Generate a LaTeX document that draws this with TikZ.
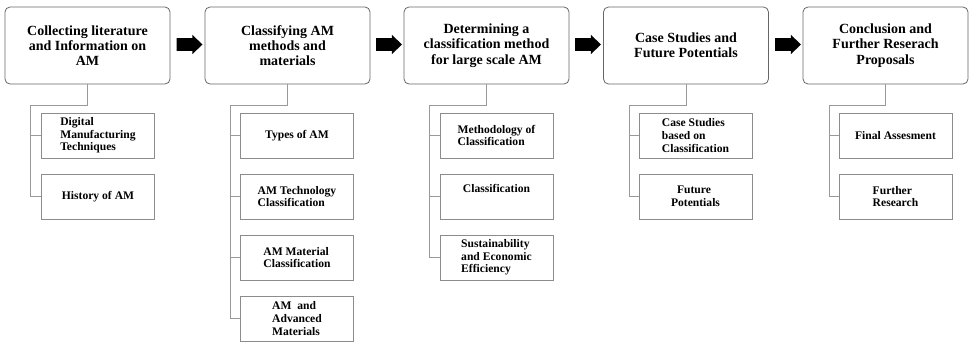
\documentclass[tikz,border=0pt]{standalone}
\usepackage{fontspec}
\setmainfont{Liberation Serif}
\begin{document}
\begin{tikzpicture}[x=1pt,y=-1pt,
  mainbox/.style={draw=black!60, line width=0.8pt, rounded corners=5pt, minimum width=165pt, minimum height=77pt, align=center, font=\fontsize{14}{15.2}\selectfont\bfseries, inner sep=2pt},
  subbox/.style={draw=black!45, line width=0.8pt, minimum width=113pt, minimum height=45pt, align=left, font=\fontsize{11.6}{12.7}\selectfont\bfseries, inner sep=2pt},
  conn/.style={draw=black!40, line width=0.7pt},
  barrow/.pic={\fill[black] (-13,-6.3) -- (2.8,-6.3) -- (2.8,-9.7) -- (13,0) -- (2.8,9.7) -- (2.8,6.3) -- (-13,6.3) -- cycle;}
]
\useasboundingbox (0,0) rectangle (969,343);

% main boxes
\node[mainbox] (m1) at (87.5,45.5) {Collecting literature\\and Information on\\AM};
\node[mainbox] (m2) at (287.5,45.5) {Classifying AM\\methods and\\materials};
\node[mainbox] (m3) at (486.5,45.5) {Determining a\\classification method\\for large scale AM};
\node[mainbox] (m4) at (686,45.5) {Case Studies and\\Future Potentials};
\node[mainbox] (m5) at (885.5,45.5) {Conclusion and\\Further Reserach\\Proposals};

% arrows
\pic at (189.5,44.5) {barrow};
\pic at (389,44.5) {barrow};
\pic at (588,44.5) {barrow};
\pic at (788,44.5) {barrow};

% column 1
\node[subbox] (s11) at (98,135.5) {Digital\\Manufacturing\\Techniques};
\node[subbox] (s12) at (98,196.5) {History of AM};
% column 2
\node[subbox] (s21) at (297,135.5) {Types of AM};
\node[subbox] (s22) at (297,196.5) {AM Technology\\Classification};
\node[subbox] (s23) at (297,257.5) {AM Material\\Classification};
\node[subbox] (s24) at (297,318.5) {AM\ \ and\\Advanced\\Materials};
% column 3
\node[subbox] (s31) at (496.5,135.5) {Methodology of\\Classification};
\node[subbox] (s32) at (496.5,196.5) {Classification\\[4pt]\mbox{}};
\node[subbox] (s33) at (496.5,257.5) {Sustainability\\and Economic\\Efficiency};
% column 4
\node[subbox] (s41) at (695.5,135.5) {Case Studies\\based on\\Classification};
\node[subbox] (s42) at (695.5,196.5) {\hspace*{6pt}Future\\Potentials};
% column 5
\node[subbox] (s51) at (895.5,135.5) {Final Assesment};
\node[subbox] (s52) at (895.5,196.5) {Further\\Research};

% connector coordinates
\coordinate (j1) at (30,105);
\coordinate (j2) at (230,105);
\coordinate (j3) at (429,105);
\coordinate (j4) at (629,105);
\coordinate (j5) at (829,105);

\path[conn] (m1.south) |- (j1) |- (s12.west);
\path[conn] (j1) |- (s11.west);
\path[conn] (m2.south) |- (j2) |- (s24.west);
\path[conn] (j2) |- (s21.west);
\path[conn] (j2) |- (s22.west);
\path[conn] (j2) |- (s23.west);
\path[conn] (m3.south) |- (j3) |- (s33.west);
\path[conn] (j3) |- (s31.west);
\path[conn] (j3) |- (s32.west);
\path[conn] (m4.south) |- (j4) |- (s42.west);
\path[conn] (j4) |- (s41.west);
\path[conn] (m5.south) |- (j5) |- (s52.west);
\path[conn] (j5) |- (s51.west);
\end{tikzpicture}
\end{document}
